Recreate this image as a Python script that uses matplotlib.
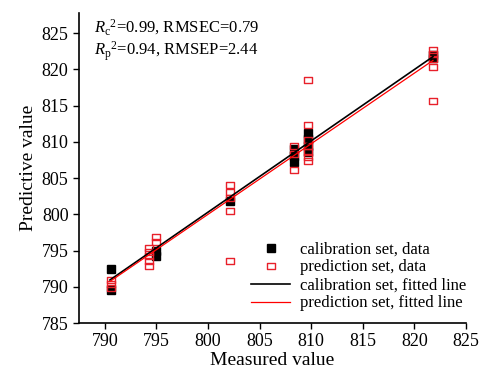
"""Measured vs predictive value scatter with fitted lines."""
import numpy as np
import matplotlib
matplotlib.use("Agg")
import matplotlib.pyplot as plt
from matplotlib.path import Path as MPath

plt.rcParams["font.family"] = ["Liberation Serif", "DejaVu Serif"]
plt.rcParams["mathtext.fontset"] = "custom"
plt.rcParams["mathtext.rm"] = "Liberation Serif"
plt.rcParams["mathtext.it"] = "Liberation Serif:italic"

# calibration set (black filled squares)
cal_x = [790.6, 790.6, 795.0, 795.0, 802.1, 808.3, 808.3, 808.3,
         809.7, 809.7, 809.7, 809.7, 821.8, 821.8]
cal_y = [792.5, 789.5, 794.2, 795.0, 801.9, 807.2, 808.0, 809.0,
         808.6, 810.4, 811.2, 809.4, 821.6, 822.0]

# prediction set (red open squares)
pred_x = ([790.6] * 3 + [794.3] * 5 + [795.0] * 2 + [802.1] * 5
          + [808.3] * 3 + [809.7] * 7 + [821.8] * 5)
pred_y = [791.0, 790.4, 789.9,
          795.3, 794.8, 794.2, 793.6, 792.9,
          796.9, 796.2,
          804.1, 803.1, 802.3, 800.5, 793.5,
          809.4, 808.4, 806.1,
          818.6, 812.3, 810.3, 809.5, 808.6, 807.9, 807.3,
          822.7, 822.2, 821.4, 820.4, 815.6]

# fitted lines: slope, intercept, x span
cal_fit = (0.985, 12.3)
pred_fit = (0.975, 20.0)
fit_span = [790.5, 821.8]

stats_text = [r"$R_\mathrm{c}{}^{2}$=0.99, RMSEC=0.79",
              r"$R_\mathrm{p}{}^{2}$=0.94, RMSEP=2.44"]

x_ticks = [790, 795, 800, 805, 810, 815, 820, 825]
y_ticks = [785, 790, 795, 800, 805, 810, 815, 820, 825]

# wide rectangle marker for the open squares
rect = MPath([(-1.3, -1), (1.3, -1), (1.3, 1), (-1.3, 1), (-1.3, -1)],
             [MPath.MOVETO, MPath.LINETO, MPath.LINETO, MPath.LINETO, MPath.CLOSEPOLY])

fig = plt.figure(figsize=(4.83, 3.74), dpi=100)
ax = fig.add_axes([79 / 483, 1 - 323 / 374, (466 - 79) / 483, (323 - 13) / 374])

ax.plot(cal_x, cal_y, "s", color="black", markersize=5.5, linestyle="none",
        label="calibration set, data", zorder=3)
ax.plot(pred_x, pred_y, marker=rect, markerfacecolor="none", markeredgecolor="#e8202a",
        markeredgewidth=1.0, markersize=6, linestyle="none",
        label="prediction set, data", zorder=4)

xs = np.array(fit_span)
ax.plot(xs, cal_fit[0] * xs + cal_fit[1], color="black", linewidth=1.2,
        label="calibration set, fitted line", zorder=5)
ax.plot(xs, pred_fit[0] * xs + pred_fit[1], color="#ff0000", linewidth=0.9,
        label="prediction set, fitted line", zorder=6)

ax.set_xlim(787.5, 825)
ax.set_ylim(785, 827.8)
ax.set_xticks(x_ticks)
ax.set_yticks(y_ticks)
ax.tick_params(direction="out", length=4, width=1, labelsize=13)
for s in ("top", "right"):
    ax.spines[s].set_visible(False)
for s in ("left", "bottom"):
    ax.spines[s].set_linewidth(1.2)

ax.set_xlabel("Measured value", fontsize=14, labelpad=1)
ax.set_ylabel("Predictive value", fontsize=14, labelpad=3)

ax.text(0.04, 0.985, stats_text[0], transform=ax.transAxes, fontsize=12, va="top")
ax.text(0.04, 0.915, stats_text[1], transform=ax.transAxes, fontsize=12, va="top")

ax.legend(loc="lower right", bbox_to_anchor=(1.03, 0.0), frameon=False, fontsize=12,
          handlelength=2.3, handletextpad=0.6, labelspacing=0.12, borderpad=0.2)

fig.savefig("out.png", dpi=100)
